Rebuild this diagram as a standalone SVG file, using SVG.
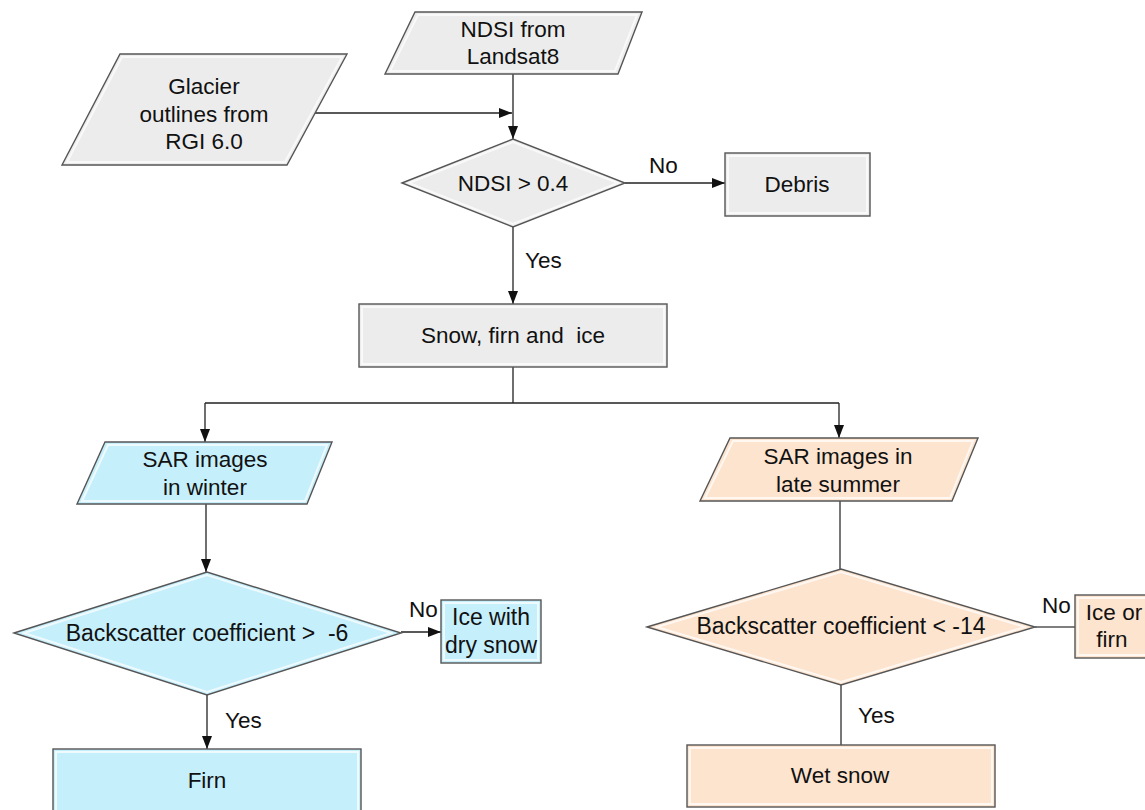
<svg xmlns="http://www.w3.org/2000/svg" width="1145" height="810" viewBox="0 0 1145 810">
<style>
  text { font-family: "Liberation Sans", Arial, sans-serif; font-size: 22.5px; fill: #111; text-anchor: middle; }
  .lbl { text-anchor: start; }
  .big { font-size: 23px; }
  .shape { stroke: #555; stroke-width: 1.4; }
  .gray { fill: #ececec; }
  .blue { fill: #c6effc; }
  .peach { fill: #fde4cf; }
  .hl { fill: none; stroke: #ffffff; stroke-opacity: 0.7; stroke-width: 2; }
  .conn { fill: none; stroke: #222; stroke-width: 1.3; }
  .conn2 { fill: none; stroke: #555; stroke-width: 1.6; }
</style>
<defs>
  <marker id="arr" markerUnits="userSpaceOnUse" markerWidth="14" markerHeight="10" refX="13" refY="5" orient="auto">
    <path d="M0,0 L13,5 L0,10 Z" fill="#111"/>
  </marker>
</defs>

<g id="connectors">
  <path class="conn" d="M315,113 H512" marker-end="url(#arr)"/>
  <path class="conn" d="M513,74 V139" marker-end="url(#arr)"/>
  <path class="conn" d="M625,183 H725" marker-end="url(#arr)"/>
  <path class="conn" d="M513,227 V304" marker-end="url(#arr)"/>
  <path class="conn" d="M513,367 V403 M205,403 H839"/>
  <path class="conn" d="M205,403 V442" marker-end="url(#arr)"/>
  <path class="conn" d="M839,403 V438" marker-end="url(#arr)"/>
  <path class="conn" d="M206,504 V572" marker-end="url(#arr)"/>
  <path class="conn" d="M401,632 H441" marker-end="url(#arr)"/>
  <path class="conn" d="M207,695 V749" marker-end="url(#arr)"/>
  <path class="conn2" d="M840,501 V569"/>
  <path class="conn2" d="M1035,627 H1075"/>
  <path class="conn2" d="M841,685 V745"/>
  <text class="lbl" x="649" y="173">No</text>
  <text class="lbl" x="525" y="268">Yes</text>
  <text class="lbl" x="409" y="617">No</text>
  <text class="lbl" x="225" y="728">Yes</text>
  <text class="lbl" x="1042" y="613">No</text>
  <text class="lbl" x="858" y="723">Yes</text>
</g>

<g id="ndsi-landsat">
  <polygon class="shape gray" points="415,12 642,12 618,74 385,74"/>
  <polygon class="hl" points="418,15 637,15 615,71 390,71"/>
  <text x="513" y="37">NDSI from</text>
  <text x="513" y="64">Landsat8</text>
</g>

<g id="glacier-outlines">
  <polygon class="shape gray" points="120,54 347,54 287,165 62,165"/>
  <polygon class="hl" points="122,57 342,57 285,162 67,162"/>
  <text x="204" y="94">Glacier</text>
  <text x="204" y="122">outlines from</text>
  <text x="204" y="149">RGI 6.0</text>
</g>

<g id="ndsi-decision">
  <polygon class="shape gray" points="402,183 513,139 625,183 513,227"/>
  <polygon class="hl" points="409,183 513,142 618,183 513,224"/>
  <text x="513" y="191">NDSI &gt; 0.4</text>
</g>

<g id="debris">
  <rect class="shape gray" x="725" y="153" width="145" height="63"/>
  <rect class="hl" x="728" y="156" width="139" height="57"/>
  <text x="797" y="192">Debris</text>
</g>

<g id="snow-firn-ice">
  <rect class="shape gray" x="359" y="304" width="308" height="63"/>
  <rect class="hl" x="362" y="307" width="302" height="57"/>
  <text x="513" y="343" xml:space="preserve">Snow, firn and  ice</text>
</g>

<g id="sar-winter">
  <polygon class="shape blue" points="105,442 332,442 307,504 77,504"/>
  <polygon class="hl" points="108,445 327,445 305,501 82,501"/>
  <text x="205" y="467">SAR images</text>
  <text x="205" y="495">in winter</text>
</g>

<g id="sar-summer">
  <polygon class="shape peach" points="730,438 978,438 952,501 700,501"/>
  <polygon class="hl" points="733,441 973,441 950,498 705,498"/>
  <text x="838" y="464">SAR images in</text>
  <text x="838" y="492">late summer</text>
</g>

<g id="backscatter-winter">
  <polygon class="shape blue" points="14,633 207,572 401,633 207,695"/>
  <polygon class="hl" points="24,633 207,575 391,633 207,692"/>
  <text class="big" x="207" y="641" xml:space="preserve">Backscatter coefficient &gt;  -6</text>
</g>

<g id="ice-dry-snow">
  <rect class="shape blue" x="441" y="600" width="100" height="63"/>
  <rect class="hl" x="444" y="603" width="94" height="57"/>
  <text class="big" x="491" y="625">Ice with</text>
  <text class="big" x="491" y="653">dry snow</text>
</g>

<g id="firn">
  <rect class="shape blue" x="53" y="749" width="308" height="70"/>
  <rect class="hl" x="56" y="752" width="302" height="64"/>
  <text x="207" y="788">Firn</text>
</g>

<g id="backscatter-summer">
  <polygon class="shape peach" points="647,627 841,569 1035,627 841,685"/>
  <polygon class="hl" points="657,627 841,572 1025,627 841,682"/>
  <text class="big" x="841" y="634">Backscatter coefficient &lt; -14</text>
</g>

<g id="ice-or-firn">
  <rect class="shape peach" x="1075" y="595" width="80" height="63"/>
  <rect class="hl" x="1078" y="598" width="74" height="57"/>
  <text x="1114" y="620">Ice or</text>
  <text x="1112" y="647">firn</text>
</g>

<g id="wet-snow">
  <rect class="shape peach" x="687" y="745" width="308" height="62"/>
  <rect class="hl" x="690" y="748" width="302" height="56"/>
  <text x="840" y="783">Wet snow</text>
</g>
</svg>
